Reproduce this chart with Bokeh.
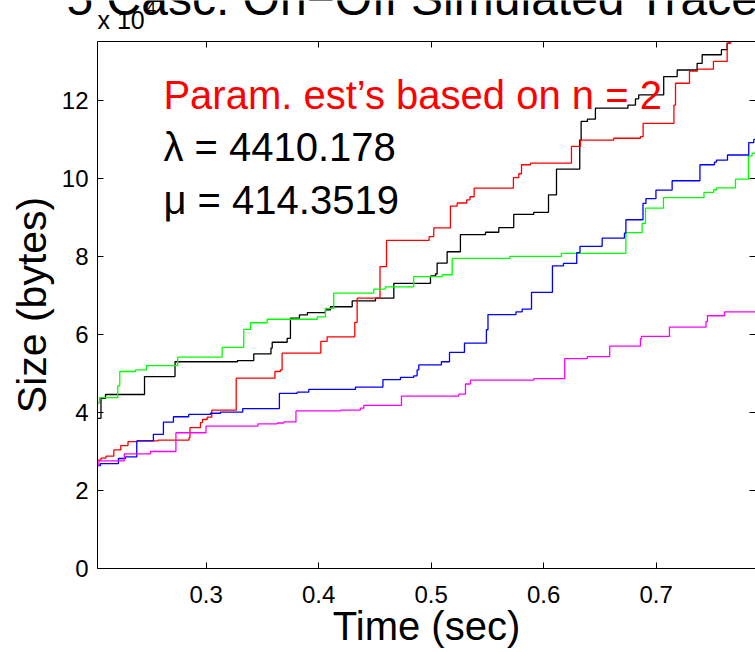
from bokeh.plotting import figure
from bokeh.models import Range1d, LinearAxis, FixedTicker, Label, CustomJSTickFormatter
from bokeh.embed import file_html
from bokeh.resources import INLINE

FONT = "Liberation Sans"

# ---------------- data ----------------
x_ticks = [0.3, 0.4, 0.5, 0.6, 0.7]
y_ticks = [0, 20000, 40000, 60000, 80000, 100000, 120000]
x_start, x_end = 0.2034, 0.7883
y_start, y_end = 0, 135100
t_stop = 0.80

black_t = [0.200, 0.2065, 0.2105, 0.2452, 0.2723, 0.3278, 0.3423, 0.3576, 0.3587, 0.3720,
           0.3749, 0.3829, 0.3900, 0.4060, 0.4105, 0.4298, 0.4505, 0.4668, 0.4994, 0.5038,
           0.5053, 0.5142, 0.5260, 0.5483, 0.5601, 0.5734, 0.5912, 0.6043, 0.6114, 0.6321,
           0.6333, 0.6389, 0.6460, 0.6749, 0.6816, 0.6845, 0.7067, 0.7187, 0.7364, 0.7409,
           0.7580, 0.7631, 0.7661]
black_size = [38500, 43600, 44600, 49200, 53000, 53300, 55000, 56500, 58000, 59000,
              64200, 65000, 65600, 66300, 67100, 68600, 69300, 73100, 75000, 75500,
              78300, 81200, 85600, 86200, 87400, 90800, 91300, 95800, 102400, 109900,
              114600, 115200, 118000, 118800, 120400, 121400, 126100, 127800, 129500, 131700,
              133000, 134700, 138000]

red_t = [0.200, 0.2065, 0.2109, 0.2179, 0.2241, 0.2305, 0.2387, 0.2571, 0.2847, 0.2856,
         0.2949, 0.2967, 0.3009, 0.3050, 0.3267, 0.3611, 0.3660, 0.3675, 0.4019, 0.4075,
         0.4321, 0.4342, 0.4545, 0.4603, 0.4982, 0.5023, 0.5171, 0.5231, 0.5316, 0.5345,
         0.5382, 0.5731, 0.5779, 0.5803, 0.5883, 0.6247, 0.6327, 0.6623, 0.6860, 0.6884,
         0.7158, 0.7172, 0.7296, 0.7367, 0.7509, 0.7631, 0.7661]
red_size = [27800, 28300, 28800, 30400, 31500, 32500, 32700, 32900, 33500, 36100,
            37400, 38200, 38800, 40600, 48800, 50500, 50900, 55200, 58200, 59400,
            63100, 69300, 77400, 84100, 85100, 87300, 92900, 93700, 94500, 95300,
            97500, 100200, 101200, 103500, 103900, 108200, 109800, 110300, 110700, 114100,
            118800, 124400, 127500, 128000, 130000, 134700, 138000]

green_t = [0.200, 0.2051, 0.2214, 0.2232, 0.2371, 0.2469, 0.2747, 0.3142, 0.3334, 0.3394,
           0.3542, 0.3987, 0.4060, 0.4134, 0.4490, 0.4594, 0.4845, 0.5098, 0.5187, 0.5699,
           0.6158, 0.6731, 0.6875, 0.6905, 0.7065, 0.7425, 0.7512, 0.7536, 0.7705, 0.7820,
           0.7853]
green_size = [42400, 43800, 46800, 50500, 50900, 52000, 54200, 56700, 61300, 63000,
              63900, 64500, 66700, 70600, 71600, 72200, 74800, 75300, 79500, 80000,
              80800, 86100, 88500, 92400, 95100, 96400, 97100, 97600, 99800, 105800,
              106500]

blue_t = [0.200, 0.2060, 0.2220, 0.2283, 0.2383, 0.2531, 0.2620, 0.2709, 0.2845, 0.3038,
          0.3127, 0.3325, 0.3651, 0.3809, 0.3912, 0.4327, 0.4571, 0.4727, 0.4845, 0.4875,
          0.4890, 0.5091, 0.5163, 0.5296, 0.5491, 0.5505, 0.5754, 0.5809, 0.5892, 0.6078,
          0.6176, 0.6294, 0.6323, 0.6520, 0.6718, 0.6731, 0.6883, 0.6909, 0.6998, 0.7142,
          0.7389, 0.7518, 0.7536, 0.7634, 0.7823, 0.7868]
blue_size = [26400, 26900, 28200, 28600, 32700, 34400, 37500, 38900, 39500, 39800,
             40100, 41000, 44900, 45200, 45900, 46500, 48400, 49000, 49400, 50900,
             52200, 53000, 55400, 57800, 61200, 65100, 65800, 66500, 70800, 77600,
             78200, 81000, 82600, 84700, 86000, 89400, 93600, 94800, 97000, 99400,
             103500, 104200, 104700, 106000, 109200, 110000]

magenta_t = [0.200, 0.2047, 0.2272, 0.2505, 0.2731, 0.2998, 0.3460, 0.3631, 0.3690, 0.3798,
             0.4194, 0.4371, 0.4401, 0.4736, 0.5245, 0.5305, 0.5349, 0.5912, 0.6187, 0.6387,
             0.6587, 0.6860, 0.6869, 0.7118, 0.7443, 0.7456, 0.7607]
magenta_size = [26400, 27600, 29400, 30000, 34800, 36500, 37100, 37300, 37600, 40400,
                40600, 41100, 41800, 44200, 44700, 47300, 48300, 48700, 53800, 54300,
                57000, 58900, 59500, 61900, 63300, 64800, 65800]

title_text = "5 Casc. On\u2212Off Simulated Trace"
x_label = "Time (sec)"
y_label = "Size (bytes)"
exp_base, exp_power = "x 10", "4"
note_lines = ["Param. est\u2019s based on n = 2", "\u03bb = 4410.178", "\u03bc = 414.3519"]
note_colors = ["#ff0000", "#000000", "#000000"]
note_y = [121400, 108150, 94560]   # vertical centres of the three text lines (bytes)
note_x = 0.2620

W, H = 755, 652
TOP = 41  # height of the strip above the axes box

# ---------------- main axes ----------------
p = figure(width=W, height=H, output_backend="svg", toolbar_location=None,
           title=None,
           x_range=Range1d(x_start, x_end), y_range=Range1d(y_start, y_end),
           x_axis_type=None, y_axis_type=None,
           min_border_left=97, min_border_right=0, min_border_top=TOP, min_border_bottom=84)
p.outline_line_color = None
p.background_fill_color = "white"
p.border_fill_color = "white"


def make_axis(ticks, label_size, standoff, line=True):
    ax = LinearAxis(ticker=FixedTicker(ticks=ticks, minor_ticks=[]))
    ax.major_tick_in = 6
    ax.major_tick_out = 0
    ax.minor_tick_in = 0
    ax.minor_tick_out = 0
    ax.major_tick_line_color = "black"
    ax.major_tick_line_width = 1
    ax.axis_line_color = "black" if line else None
    ax.axis_line_width = 1
    ax.major_label_text_font = FONT
    ax.major_label_text_font_size = label_size
    ax.major_label_text_color = "black"
    ax.major_label_standoff = standoff
    ax.axis_label_text_font = FONT
    ax.axis_label_text_font_style = "normal"
    ax.axis_label_text_color = "black"
    return ax


xb = make_axis(x_ticks, "24px", 17)
xb.axis_label = x_label
xb.axis_label_text_font_size = "40px"
xb.axis_label_standoff = -2
p.add_layout(xb, "below")

yl = make_axis(y_ticks, "24px", 9)
yl.formatter = CustomJSTickFormatter(code="return (tick / 10000).toFixed(0);")
yl.axis_label = y_label
yl.axis_label_text_font_size = "41px"
yl.axis_label_standoff = 4
p.add_layout(yl, "left")

# box edges with inward ticks only (no labels), like the original "box on" axes
blank = "return '';"
xt = make_axis(x_ticks, "1px", 0)
xt.formatter = CustomJSTickFormatter(code=blank)
p.add_layout(xt, "above")

yr = make_axis(y_ticks, "1px", 0, line=False)
yr.formatter = CustomJSTickFormatter(code=blank)
p.add_layout(yr, "right")

series = [
    (black_t, black_size, "#000000"),
    (red_t, red_size, "#ff0000"),
    (green_t, green_size, "#00ff00"),
    (blue_t, blue_size, "#0000ff"),
    (magenta_t, magenta_size, "#ff00ff"),
]
for ts, vs, col in series:
    p.step(ts + [t_stop], vs + [vs[-1]], mode="after", line_color=col, line_width=1.3)

for txt, col, yy in zip(note_lines, note_colors, note_y):
    p.add_layout(Label(x=note_x, y=yy, text=txt, text_font=FONT, text_font_size="40px",
                       text_color=col, text_baseline="alphabetic", text_align="left"))

# ---------------- transparent strip laid over the top edge: title + exponent ----------------
head = figure(width=W, height=TOP, output_backend="svg", toolbar_location=None,
              title=None, title_location=None,
              x_range=Range1d(0, W), y_range=Range1d(0, TOP),
              x_axis_type=None, y_axis_type=None,
              min_border=0, min_border_left=0, min_border_right=0,
              min_border_top=0, min_border_bottom=0)
head.outline_line_color = None
head.background_fill_color = None
head.border_fill_color = None
head.styles = {"position": "absolute", "top": "0px", "left": "0px"}

# positions in strip pixels (y measured up from the strip's bottom edge, at text centre)
head.add_layout(Label(x=66, y=TOP + 1.6, text=title_text, text_font=FONT,
                      text_font_size="48px", text_color="black",
                      text_baseline="alphabetic", text_align="left"))
head.add_layout(Label(x=97, y=TOP - 19.6, text=exp_base, text_font=FONT,
                      text_font_size="25px", text_color="black",
                      text_baseline="alphabetic", text_align="left"))
head.add_layout(Label(x=146, y=TOP - 7.6, text=exp_power, text_font=FONT,
                      text_font_size="17px", text_color="black",
                      text_baseline="alphabetic", text_align="left"))

open("out.html", "w").write(file_html([p, head], INLINE))
